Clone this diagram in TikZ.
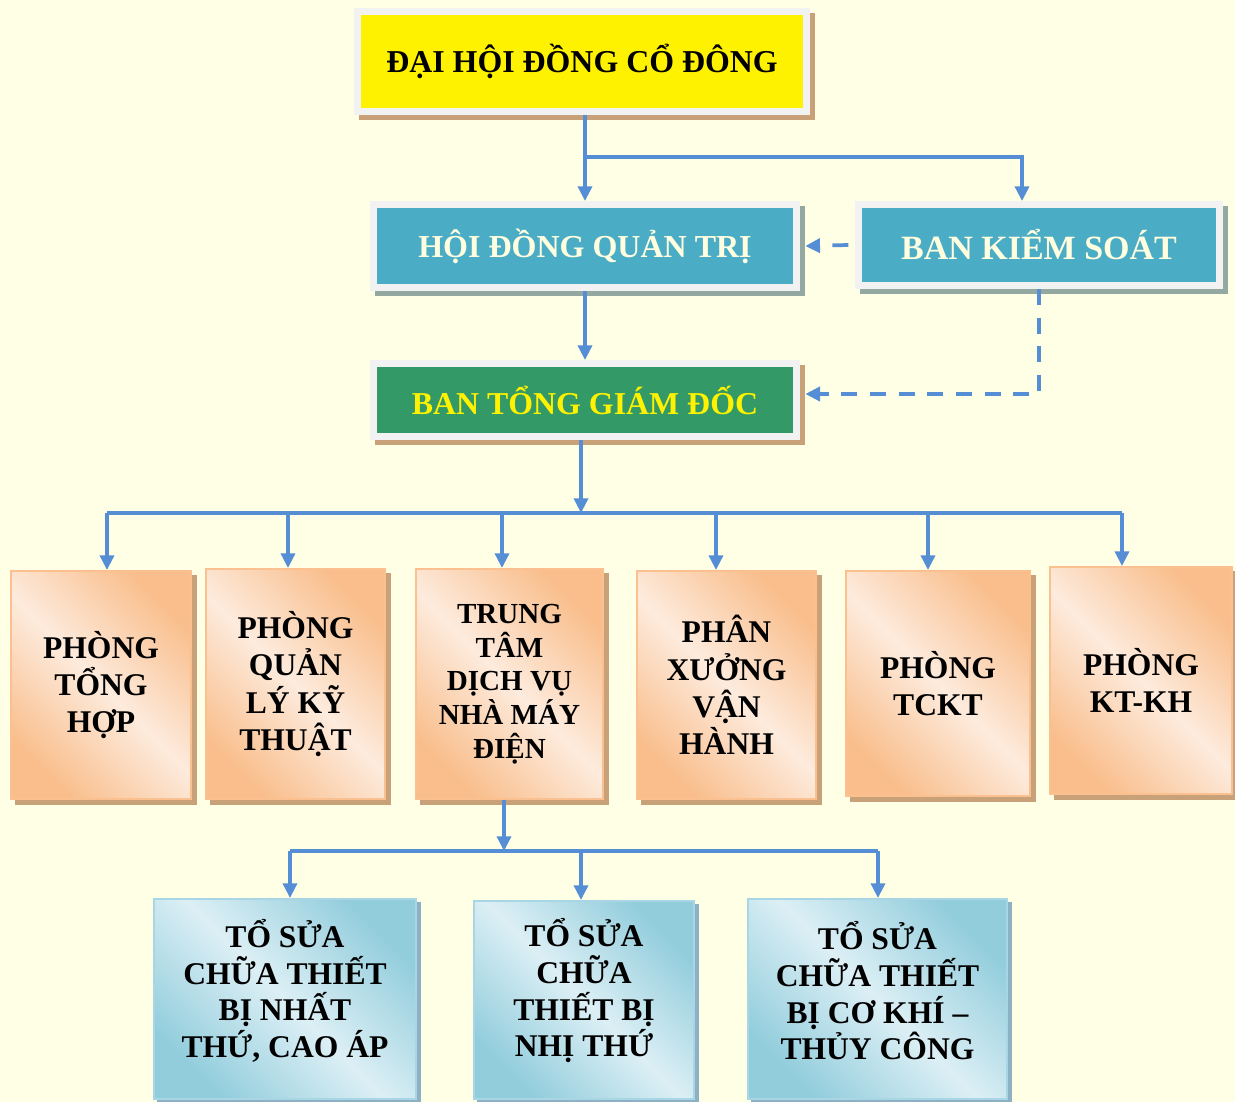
\documentclass[tikz,border=0pt]{standalone}
\usepackage{fontspec}
\setmainfont{Liberation Serif}
\usetikzlibrary{arrows.meta,shadows,calc}
\definecolor{bg}{HTML}{FFFFE6}
\definecolor{frameg}{HTML}{F2F2F2}
\definecolor{teal}{HTML}{4BACC6}
\definecolor{greenb}{HTML}{339966}
\definecolor{tansh}{HTML}{C9A178}
\definecolor{graysh}{HTML}{92A8A0}
\definecolor{peach}{HTML}{F9BE8C}
\definecolor{peachl}{HTML}{FDEBDD}
\definecolor{peachb}{HTML}{FAC090}
\definecolor{bluel}{HTML}{DCEFF5}
\definecolor{blued}{HTML}{92CDDC}
\definecolor{blueb}{HTML}{A8D6E4}
\definecolor{bluesh}{HTML}{8EB0C4}
\definecolor{conn}{HTML}{558ED5}
\definecolor{cream}{HTML}{FFFFE0}
\tikzset{
  framebox/.style={draw=frameg, line width=5.25pt, inner sep=0pt, font=\bfseries},
  topbox/.style={framebox, fill=yellow, text=black,
     general shadow={fill=tansh, draw=tansh, shadow xshift=3.5pt, shadow yshift=-3.5pt}},
  tealbox/.style={framebox, fill=teal, text=cream,
     general shadow={fill=graysh, draw=graysh, shadow xshift=3.5pt, shadow yshift=-3.5pt}},
  greenbox/.style={framebox, fill=greenb, text=yellow,
     general shadow={fill=tansh, draw=tansh, shadow xshift=3.5pt, shadow yshift=-3.5pt}},
  orbox/.style={draw=peachb, line width=1.5pt, top color=peach, bottom color=peach, middle color=peachl,
     shading angle=-45, align=center, inner sep=0pt, text=black,
     font=\bfseries\fontsize{23.7}{28}\selectfont,
     general shadow={fill=tansh, draw=tansh, shadow xshift=3.5pt, shadow yshift=-3.5pt}},
  blbox/.style={draw=blueb, line width=1.5pt, top color=blued, bottom color=blued, middle color=bluel,
     shading angle=-45, inner sep=0pt,
     general shadow={fill=bluesh, draw=bluesh, shadow xshift=3pt, shadow yshift=-3pt}},
  bltext/.style={align=center, inner sep=0pt, text=black,
     font=\bfseries\fontsize{23.7}{27.5}\selectfont},
  cline/.style={draw=conn, line width=2.6pt},
  carrow/.style={cline, -{Triangle[width=10.5pt,length=11pt]}},
  dline/.style={draw=conn, line width=2.8pt, dash pattern=on 12pt off 9.5pt, -{Triangle[width=10.5pt,length=11pt]}}
}
\begin{document}
\begin{tikzpicture}[x=0.75pt,y=-0.75pt]
\useasboundingbox (0,0) rectangle (1235,1102);
\fill[bg] (0,0) rectangle (1235,1102);

% top levels
\node[topbox, minimum width=336.75pt, minimum height=75pt, font=\bfseries\fontsize{23.9}{28}\selectfont]
  (dhcd) at (582,61.5) {ĐẠI HỘI ĐỒNG CỔ ĐÔNG};
\node[tealbox, minimum width=317.25pt, minimum height=62.25pt, font=\bfseries\fontsize{24}{28}\selectfont]
  (hdqt) at (585,246) {HỘI ĐỒNG QUẢN TRỊ};
\node[tealbox, minimum width=270.75pt, minimum height=60.75pt, font=\bfseries\fontsize{25.5}{28}\selectfont]
  (bks) at (1039,245) {BAN KIỂM SOÁT};
\node[greenbox, minimum width=317.25pt, minimum height=54.75pt, font=\bfseries\fontsize{23.9}{28}\selectfont]
  (btgd) at (585,400) {BAN TỔNG GIÁM ĐỐC};

% departments
\node[orbox, minimum width=135pt, minimum height=171pt] (o1) at (101,685) {PHÒNG\\TỔNG\\HỢP};
\node[orbox, minimum width=134.25pt, minimum height=172.5pt] (o2) at (295.5,684) {PHÒNG\\QUẢN\\LÝ KỸ\\THUẬT};
\node[orbox, minimum width=140.25pt, minimum height=172.5pt, font=\bfseries\fontsize{21.8}{25.3}\selectfont]
  (o3) at (509.5,684) {TRUNG\\TÂM\\DỊCH VỤ\\NHÀ MÁY\\ĐIỆN};
\node[orbox, minimum width=134.25pt, minimum height=171pt] (o4) at (726.5,685) {PHÂN\\XƯỞNG\\VẬN\\HÀNH};
\node[orbox, minimum width=138pt, minimum height=168.75pt] (o5) at (938,683.5) {PHÒNG\\TCKT};
\node[orbox, minimum width=136.5pt, minimum height=170.25pt] (o6) at (1141,680.5) {PHÒNG\\KT-KH};

% teams
\node[blbox, minimum width=196.5pt, minimum height=150pt] (t1) at (285,999) {};
\node[blbox, minimum width=165pt, minimum height=148.5pt] (t2) at (584,1000) {};
\node[blbox, minimum width=194.25pt, minimum height=150pt] (t3) at (877.5,999) {};
\node[bltext] (t1l) at (285,991) {TỔ SỬA\\CHỮA THIẾT\\BỊ NHẤT\\THỨ, CAO ÁP};
\node[bltext] (t2l) at (584,991) {TỔ SỬA\\CHỮA\\THIẾT BỊ\\NHỊ THỨ};
\node[bltext] (t3l) at (877.5,991) {TỔ SỬA\\CHỮA THIẾT\\BỊ CƠ KHÍ –\\THỦY CÔNG};

% connectors top
\coordinate (j1) at (585,157);
\draw[carrow] (dhcd.south -| j1) -- (hdqt.north -| j1);
\draw[carrow] (j1) -| ([xshift=-12.75pt]bks.north);
\draw[carrow] (hdqt.south) -- (btgd.north);
\draw[dline] ([xshift=-5pt]bks.west) -- ([xshift=4pt]hdqt.east);
\draw[dline] (bks.south) |- ([xshift=4pt,yshift=4.5pt]btgd.east);

% bus to departments
\coordinate (bus) at (581,513);
\coordinate (bl) at (107,513);
\coordinate (br) at (1122,513);
\draw[carrow] (btgd.south -| bus) -- (bus);
\draw[cline] (bl) -- (br);
\foreach \x/\n in {107/o1,288/o2,502/o3,716/o4,928/o5,1122/o6}{
  \draw[carrow] (\x,513) -- (\n.north -| {(\x,0)});
}

% bus to teams
\coordinate (bus2) at (504,851);
\draw[carrow] (o3.south -| bus2) -- (bus2);
\draw[cline] (290,851) -- (878,851);
\foreach \x/\n in {290/t1,581/t2,878/t3}{
  \draw[carrow] (\x,851) -- (\n.north -| {(\x,0)});
}
\end{tikzpicture}
\end{document}
